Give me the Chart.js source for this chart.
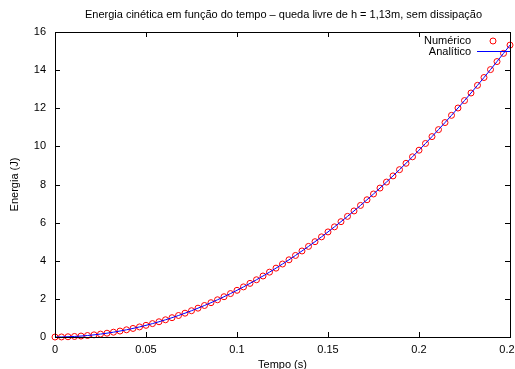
<!DOCTYPE html>
<html>
<head>
<meta charset="utf-8">
<script src="https://cdn.jsdelivr.net/npm/chart.js@4/dist/chart.umd.min.js"></script>
<style>
  html, body { margin: 0; padding: 0; background: #fff; overflow: hidden; }
  #wrap { width: 530px; height: 369px; }
</style>
</head>
<body>
<div id="wrap"><canvas id="energia" width="530" height="369"></canvas></div>
<script>
// tempo (s) de cada passo da simulação
const tempos = [
    0, 0.00357, 0.00714, 0.01071, 0.01429, 0.01786, 0.02143, 0.025, 0.02857, 0.03214,
    0.03571, 0.03929, 0.04286, 0.04643, 0.05, 0.05357, 0.05714, 0.06071, 0.06429, 0.06786,
    0.07143, 0.075, 0.07857, 0.08214, 0.08571, 0.08929, 0.09286, 0.09643, 0.1, 0.10357,
    0.10714, 0.11071, 0.11429, 0.11786, 0.12143, 0.125, 0.12857, 0.13214, 0.13571, 0.13929,
    0.14286, 0.14643, 0.15, 0.15357, 0.15714, 0.16071, 0.16429, 0.16786, 0.17143, 0.175,
    0.17857, 0.18214, 0.18571, 0.18929, 0.19286, 0.19643, 0.2, 0.20357, 0.20714, 0.21071,
    0.21429, 0.21786, 0.22143, 0.225, 0.22857, 0.23214, 0.23571, 0.23929, 0.24286, 0.24643,
    0.25
];

// energia cinética numérica (J)
const energiaNumerica = [
    0, 0.003, 0.013, 0.028, 0.05, 0.078, 0.113, 0.153, 0.2, 0.253,
    0.313, 0.378, 0.45, 0.528, 0.613, 0.703, 0.8, 0.903, 1.013, 1.128,
    1.25, 1.378, 1.513, 1.653, 1.8, 1.953, 2.113, 2.278, 2.45, 2.628,
    2.813, 3.003, 3.2, 3.403, 3.613, 3.828, 4.05, 4.278, 4.513, 4.753,
    5, 5.253, 5.513, 5.778, 6.05, 6.328, 6.613, 6.903, 7.2, 7.503,
    7.813, 8.128, 8.45, 8.778, 9.113, 9.453, 9.8, 10.153, 10.513, 10.878,
    11.25, 11.628, 12.013, 12.403, 12.8, 13.203, 13.613, 14.028, 14.45, 14.878,
    15.313
];

// energia cinética analítica (J)
const energiaAnalitica = [
    0, 0.003, 0.013, 0.028, 0.05, 0.078, 0.113, 0.153, 0.2, 0.253,
    0.313, 0.378, 0.45, 0.528, 0.613, 0.703, 0.8, 0.903, 1.013, 1.128,
    1.25, 1.378, 1.513, 1.653, 1.8, 1.953, 2.113, 2.278, 2.45, 2.628,
    2.813, 3.003, 3.2, 3.403, 3.613, 3.828, 4.05, 4.278, 4.513, 4.753,
    5, 5.253, 5.513, 5.778, 6.05, 6.328, 6.613, 6.903, 7.2, 7.503,
    7.813, 8.128, 8.45, 8.778, 9.113, 9.453, 9.8, 10.153, 10.513, 10.878,
    11.25, 11.628, 12.013, 12.403, 12.8, 13.203, 13.613, 14.028, 14.45, 14.878,
    15.313
];

const xTicks = [0, 0.05, 0.1, 0.15, 0.2, 0.25];
const yTicks = [0, 2, 4, 6, 8, 10, 12, 14, 16];

const titulo = 'Energia cinética em função do tempo – queda livre de h = 1,13m, sem dissipação';
const FONT = '"Liberation Sans", Arial, sans-serif';

const pontos = (ys) => tempos.map((t, i) => ({ x: t, y: ys[i] }));

// moldura, marcas para dentro, título e legenda no estilo gnuplot
const moldura = {
    id: 'moldura',
    afterDraw(chart) {
        const ctx = chart.ctx;
        const a = chart.chartArea;
        const sx = chart.scales.x;
        const sy = chart.scales.y;
        ctx.save();
        ctx.strokeStyle = '#000';
        ctx.lineWidth = 1;
        ctx.strokeRect(Math.round(a.left) + 0.5, Math.round(a.top) + 0.5,
            Math.round(a.right - a.left), Math.round(a.bottom - a.top));
        ctx.beginPath();
        for (const v of xTicks) {
            const px = Math.round(sx.getPixelForValue(v)) + 0.5;
            ctx.moveTo(px, a.bottom); ctx.lineTo(px, a.bottom - 5);
            ctx.moveTo(px, a.top); ctx.lineTo(px, a.top + 5);
        }
        for (const v of yTicks) {
            const py = Math.round(sy.getPixelForValue(v)) + 0.5;
            ctx.moveTo(a.left, py); ctx.lineTo(a.left + 5, py);
            ctx.moveTo(a.right, py); ctx.lineTo(a.right - 5, py);
        }
        ctx.stroke();

        ctx.fillStyle = '#000';
        ctx.font = '11px ' + FONT;
        ctx.textAlign = 'center';
        ctx.textBaseline = 'middle';
        ctx.fillText(titulo, (a.left + a.right) / 2 + 1, 15);

        // legenda
        ctx.textAlign = 'right';
        ctx.fillText('Numérico', 471, 41);
        ctx.fillText('Analítico', 471, 52);
        ctx.strokeStyle = '#ff0000';
        ctx.beginPath();
        ctx.arc(493, 41, 3, 0, Math.PI * 2);
        ctx.stroke();
        ctx.strokeStyle = '#0000ff';
        ctx.beginPath();
        ctx.moveTo(477, 51.5); ctx.lineTo(510, 51.5);
        ctx.stroke();
        ctx.restore();
    }
};

const ctx = document.getElementById('energia').getContext('2d');
const grafico = new Chart(ctx, {
    type: 'scatter',
    data: {
        datasets: [
            {
                label: 'Analítico',
                data: pontos(energiaAnalitica),
                showLine: true,
                borderColor: '#0000ff',
                borderWidth: 1,
                pointRadius: 0,
                fill: false,
                order: 0
            },
            {
                label: 'Numérico',
                data: pontos(energiaNumerica),
                showLine: false,
                pointRadius: 3,
                pointBorderWidth: 1,
                pointBorderColor: '#ff0000',
                pointBackgroundColor: 'rgba(0,0,0,0)',
                clip: false,
                order: 1
            }
        ]
    },
    options: {
        responsive: false,
        animation: false,
        layout: { padding: { top: 32, right: 20, left: 0, bottom: 0 } },
        plugins: {
            legend: { display: false },
            tooltip: { enabled: false }
        },
        scales: {
            x: {
                type: 'linear',
                min: 0,
                max: 0.25,
                afterBuildTicks: (s) => { s.ticks = xTicks.map(v => ({ value: v })); },
                ticks: {
                    color: '#000',
                    font: { family: FONT, size: 11 },
                    padding: 6,
                    maxRotation: 0,
                    callback: (v) => String(v)
                },
                grid: { display: false, drawTicks: false },
                border: { display: false },
                title: {
                    display: true,
                    text: 'Tempo (s)',
                    color: '#000',
                    font: { family: FONT, size: 11 },
                    padding: { top: 0, bottom: -3 }
                },
                afterFit: (s) => { s.height = 32; }
            },
            y: {
                min: 0,
                max: 16,
                afterBuildTicks: (s) => { s.ticks = yTicks.map(v => ({ value: v })); },
                ticks: {
                    color: '#000',
                    font: { family: FONT, size: 11 },
                    padding: 9
                },
                grid: { display: false, drawTicks: false },
                border: { display: false },
                title: {
                    display: true,
                    text: 'Energia (J)',
                    color: '#000',
                    font: { family: FONT, size: 11 },
                    padding: { top: 8, bottom: 0 }
                },
                afterFit: (s) => { s.width = 55; }
            }
        }
    },
    plugins: [moldura]
});
</script>
</body>
</html>
